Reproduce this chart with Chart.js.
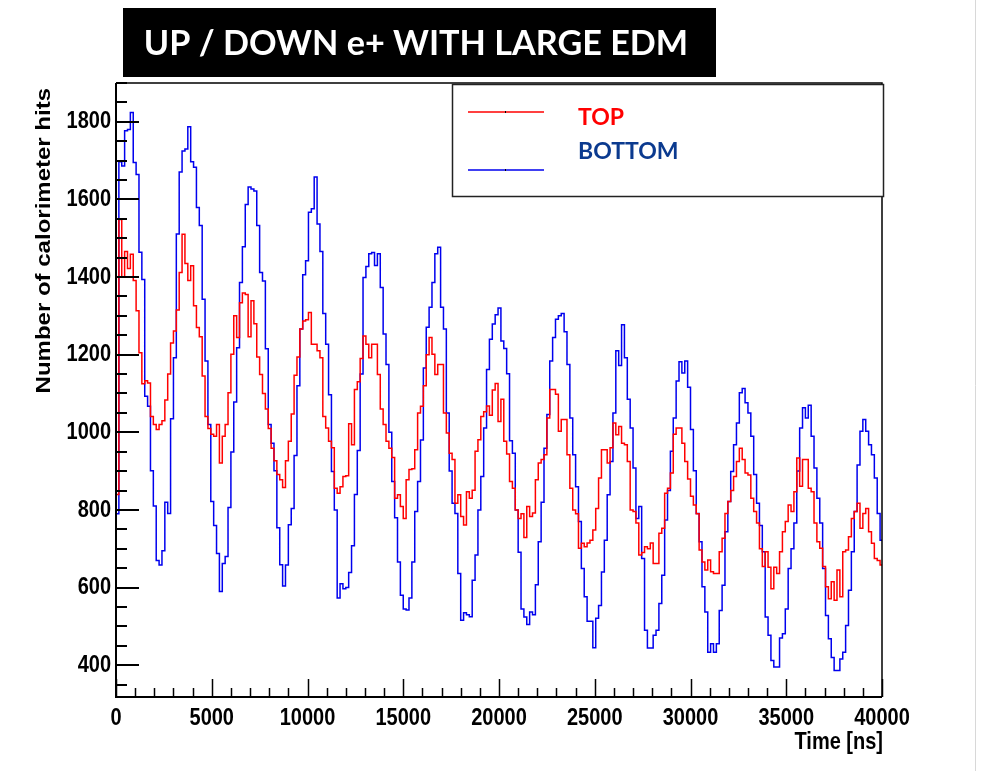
<!DOCTYPE html>
<html>
<head>
<meta charset="utf-8">
<script src="https://cdn.jsdelivr.net/npm/chart.js@4.4.1/dist/chart.umd.min.js"></script>
<style>
  html, body { margin: 0; padding: 0; background: #fff; }
  canvas { display: block; }
</style>
</head>
<body>
<canvas id="hits-chart" width="987" height="771"></canvas>
<script>
// histogram bin width in ns, bins start at t = 0
const binWidth = 150;

// calorimeter hits per bin, TOP detectors
const topHits = [
  840, 1548, 1401, 1466, 1422, 1459, 1391, 1313, 1205, 1125,
  1133, 1127, 1041, 1020, 1007, 1020, 1030, 1083, 1150, 1230,
  1261, 1315, 1412, 1510, 1435, 1391, 1429, 1326, 1270, 1246,
  1145, 1041, 1010, 995, 990, 1020, 921, 990, 1020, 1102,
  1201, 1300, 1244, 1334, 1359, 1355, 1246, 1339, 1280, 1194,
  1149, 1100, 1060, 1010, 959, 927, 891, 878, 858, 927,
  977, 1047, 1147, 1194, 1266, 1287, 1290, 1309, 1227, 1227,
  1210, 1192, 1041, 1011, 977, 960, 856, 843, 860, 886,
  888, 1022, 968, 1110, 1130, 1190, 1248, 1227, 1192, 1227,
  1227, 1149, 1060, 1020, 977, 959, 935, 830, 839, 809,
  778, 878, 904, 906, 955, 1050, 1067, 1120, 1200, 1244,
  1201, 1149, 1175, 1175, 1050, 998, 946, 930, 817, 839,
  783, 761, 847, 830, 851, 951, 981, 1041, 1053, 1068,
  1044, 1109, 1126, 1028, 1085, 977, 944, 873, 856, 800,
  778, 790, 729, 809, 783, 792, 878, 921, 930, 942,
  1037, 1110, 1110, 1098, 1003, 1033, 1033, 942, 856, 800,
  790, 701, 714, 705, 715, 722, 748, 804, 882, 955,
  955, 921, 960, 1024, 994, 1015, 972, 968, 925, 800,
  796, 766, 684, 690, 705, 700, 715, 662, 662, 740,
  753, 843, 856, 895, 995, 1011, 1011, 972, 925, 880,
  835, 813, 790, 697, 666, 645, 671, 641, 636, 636,
  692, 727, 791, 822, 850, 886, 925, 959, 930, 895,
  890, 830, 796, 766, 700, 654, 692, 652, 597, 652,
  636, 692, 744, 770, 813, 796, 847, 934, 861, 930,
  930, 856, 847, 766, 718, 701, 654, 602, 571, 615,
  567, 645, 576, 692, 697, 731, 778, 796, 817, 753,
  791, 804, 744, 714, 675, 670, 658
];

// calorimeter hits per bin, BOTTOM detectors
const bottomHits = [
  790, 1697, 1686, 1777, 1780, 1824, 1695, 1664, 1464, 1394,
  1093, 1067, 901, 810, 670, 658, 695, 820, 791, 1035,
  1192, 1511, 1671, 1725, 1730, 1787, 1697, 1683, 1579, 1533,
  1343, 1184, 1020, 822, 760, 688, 590, 662, 680, 806,
  949, 1078, 1218, 1386, 1478, 1587, 1632, 1627, 1622, 1533,
  1412, 1390, 1215, 1020, 972, 901, 754, 659, 604, 658,
  762, 804, 940, 1120, 1266, 1406, 1442, 1567, 1576, 1658,
  1537, 1466, 1306, 1227, 1097, 899, 800, 573, 610, 597,
  600, 639, 708, 840, 953, 1150, 1399, 1427, 1460, 1463,
  1430, 1460, 1373, 1253, 1175, 1000, 873, 780, 666, 580,
  545, 542, 573, 666, 796, 873, 980, 1166, 1271, 1322,
  1386, 1460, 1477, 1322, 1266, 1050, 900, 817, 791, 636,
  516, 535, 530, 525, 619, 684, 800, 886, 1011, 1162,
  1240, 1279, 1303, 1320, 1235, 1216, 1151, 978, 946, 800,
  691, 545, 524, 505, 537, 530, 607, 718, 820, 959,
  1046, 1184, 1244, 1291, 1300, 1306, 1259, 1175, 1037, 942,
  860, 770, 649, 576, 513, 513, 445, 521, 554, 640,
  722, 839, 925, 1050, 1210, 1172, 1277, 1192, 1085, 1011,
  908, 778, 809, 675, 490, 444, 444, 477, 490, 559,
  632, 774, 850, 951, 1037, 1132, 1182, 1153, 1184, 1116,
  1007, 901, 791, 718, 602, 537, 433, 455, 433, 455,
  541, 606, 744, 822, 899, 968, 1024, 1102, 1113, 1076,
  1050, 990, 891, 817, 760, 692, 524, 477, 412, 395,
  395, 470, 481, 545, 649, 700, 766, 900, 1011, 1063,
  1037, 1070, 990, 908, 830, 766, 649, 528, 468, 420,
  386, 386, 416, 433, 502, 593, 692, 796, 916, 1003,
  1033, 1003, 968, 942, 882, 791, 722
];

const xTickValues = [0, 5000, 10000, 15000, 20000, 25000, 30000, 35000, 40000];
const yTickValues = [400, 600, 800, 1000, 1200, 1400, 1600, 1800];
const seriesNames = ['TOP', 'BOTTOM'];

const xMinorStep = 1000;
const yMinorStep = 50;

// left bin edges plus the closing edge, drawn as steps
function toSteps(counts) {
  const pts = counts.map((v, i) => ({ x: i * binWidth, y: v }));
  pts.push({ x: counts.length * binWidth, y: counts[counts.length - 1] });
  return pts;
}

// axis text is drawn tall and narrow, like the exported ROOT canvas
const axisFont = "bold 20px 'Liberation Sans', Arial, sans-serif";
const stretch = 1.2;

function tallText(ctx, text, x, y, align, baseline) {
  ctx.save();
  ctx.translate(x, y);
  ctx.scale(1, stretch);
  ctx.textAlign = align;
  ctx.textBaseline = baseline;
  ctx.fillText(text, 0, 0);
  ctx.restore();
}

const frameAndTicks = {
  id: 'frameAndTicks',
  afterDatasetsDraw(chart) {
    const { ctx, chartArea: a, scales } = chart;
    const x = scales.x, y = scales.y;
    ctx.save();
    ctx.strokeStyle = '#000';

    // frame
    ctx.lineWidth = 1.5;
    ctx.beginPath();
    ctx.moveTo(a.left, a.top); ctx.lineTo(a.right, a.top); ctx.lineTo(a.right, a.bottom);
    ctx.stroke();
    ctx.lineWidth = 2;
    ctx.beginPath();
    ctx.moveTo(a.left, a.top); ctx.lineTo(a.left, a.bottom); ctx.lineTo(a.right, a.bottom);
    ctx.stroke();

    // y ticks, pointing into the pad
    ctx.lineWidth = 2;
    ctx.beginPath();
    for (let v = Math.ceil(y.min / yMinorStep) * yMinorStep; v <= y.max; v += yMinorStep) {
      const py = Math.round(y.getPixelForValue(v));
      const len = yTickValues.includes(v) ? 23 : 11;
      ctx.moveTo(a.left, py); ctx.lineTo(a.left + len, py);
    }
    ctx.stroke();

    // x ticks
    ctx.lineWidth = 1.5;
    ctx.beginPath();
    for (let v = x.min; v <= x.max; v += xMinorStep) {
      const px = Math.round(x.getPixelForValue(v)) + 0.5;
      const len = xTickValues.includes(v) ? 18 : 9;
      ctx.moveTo(px, a.bottom); ctx.lineTo(px, a.bottom - len);
    }
    ctx.stroke();

    // tick labels
    ctx.fillStyle = '#000';
    ctx.font = axisFont;
    yTickValues.forEach(v => tallText(ctx, String(v), a.left - 5, y.getPixelForValue(v), 'right', 'middle'));
    xTickValues.forEach(v => tallText(ctx, String(v), x.getPixelForValue(v), a.bottom + 9, 'center', 'top'));

    // axis titles
    tallText(ctx, 'Time [ns]', a.right + 1, 749, 'right', 'alphabetic');

    ctx.save();
    ctx.translate(50, a.top + 5);
    ctx.rotate(-Math.PI / 2);
    ctx.scale(stretch, 1);
    ctx.textAlign = 'right';
    ctx.textBaseline = 'alphabetic';
    ctx.fillText('Number of calorimeter hits', 0, 0);
    ctx.restore();

    ctx.restore();
  }
};

const legendBox = {
  id: 'legendBox',
  afterDraw(chart) {
    const { ctx } = chart;
    ctx.save();
    ctx.fillStyle = '#fff';
    ctx.fillRect(452, 84, 432, 113);
    ctx.strokeStyle = '#222';
    ctx.lineWidth = 1.5;
    ctx.strokeRect(452.5, 84.5, 431, 112);

    const rows = [
      { y: 112, text: 118, color: '#ff0000', label: seriesNames[0], textColor: '#ff0000' },
      { y: 170, text: 152, color: '#0000ee', label: seriesNames[1], textColor: '#0b3a8f' }
    ];
    rows.forEach(r => {
      ctx.strokeStyle = r.color;
      ctx.lineWidth = 1.5;
      ctx.beginPath();
      ctx.moveTo(468, r.y); ctx.lineTo(544, r.y);
      ctx.stroke();
      ctx.fillStyle = '#000';
      ctx.fillRect(505, r.y - 1, 1, 2);
      ctx.fillStyle = r.textColor;
      ctx.font = "bold 23px Lato, 'Open Sans', sans-serif";
      ctx.textAlign = 'left';
      ctx.textBaseline = 'middle';
      ctx.fillText(r.label, 578, r.text);
    });
    ctx.restore();
  }
};

const titleBanner = {
  id: 'titleBanner',
  afterDraw(chart) {
    const { ctx } = chart;
    const text = 'UP / DOWN e+ WITH LARGE EDM';
    ctx.save();
    ctx.fillStyle = '#000';
    ctx.fillRect(123, 8, 593, 69);
    let size = 36;
    ctx.font = `bold ${size}px Lato, 'Open Sans', sans-serif`;
    size = size * 545 / ctx.measureText(text).width;
    ctx.font = `bold ${size.toFixed(1)}px Lato, 'Open Sans', sans-serif`;
    ctx.fillStyle = '#fff';
    ctx.textAlign = 'center';
    ctx.textBaseline = 'middle';
    ctx.fillText(text, 416, 44);

    // page edge
    ctx.strokeStyle = '#d8d8d8';
    ctx.lineWidth = 1;
    ctx.beginPath();
    ctx.moveTo(975.5, 0); ctx.lineTo(975.5, 771);
    ctx.stroke();
    ctx.restore();
  }
};

new Chart(document.getElementById('hits-chart'), {
  type: 'line',
  data: {
    datasets: [
      {
        label: seriesNames[0],
        data: toSteps(topHits),
        borderColor: '#ff0000',
        borderWidth: 1.5,
        stepped: 'before',
        pointRadius: 0,
        fill: false,
        order: 0
      },
      {
        label: seriesNames[1],
        data: toSteps(bottomHits),
        borderColor: '#0000ee',
        borderWidth: 1.5,
        stepped: 'before',
        pointRadius: 0,
        fill: false,
        order: 1
      }
    ]
  },
  options: {
    responsive: false,
    animation: false,
    layout: { padding: { left: 0, top: 83, right: 105, bottom: 0 } },
    plugins: {
      legend: { display: false },
      tooltip: { enabled: false }
    },
    scales: {
      x: {
        type: 'linear',
        min: 0,
        max: 40000,
        grid: { display: false, drawTicks: false },
        border: { display: false },
        afterBuildTicks: scale => { scale.ticks = xTickValues.map(v => ({ value: v })); },
        afterFit: scale => { scale.height = 74; },
        ticks: { display: false }
      },
      y: {
        type: 'linear',
        min: 318,
        max: 1900,
        grid: { display: false, drawTicks: false },
        border: { display: false },
        afterBuildTicks: scale => { scale.ticks = yTickValues.map(v => ({ value: v })); },
        afterFit: scale => { scale.width = 116; },
        ticks: { display: false }
      }
    }
  },
  plugins: [frameAndTicks, legendBox, titleBanner]
});
</script>
</body>
</html>
